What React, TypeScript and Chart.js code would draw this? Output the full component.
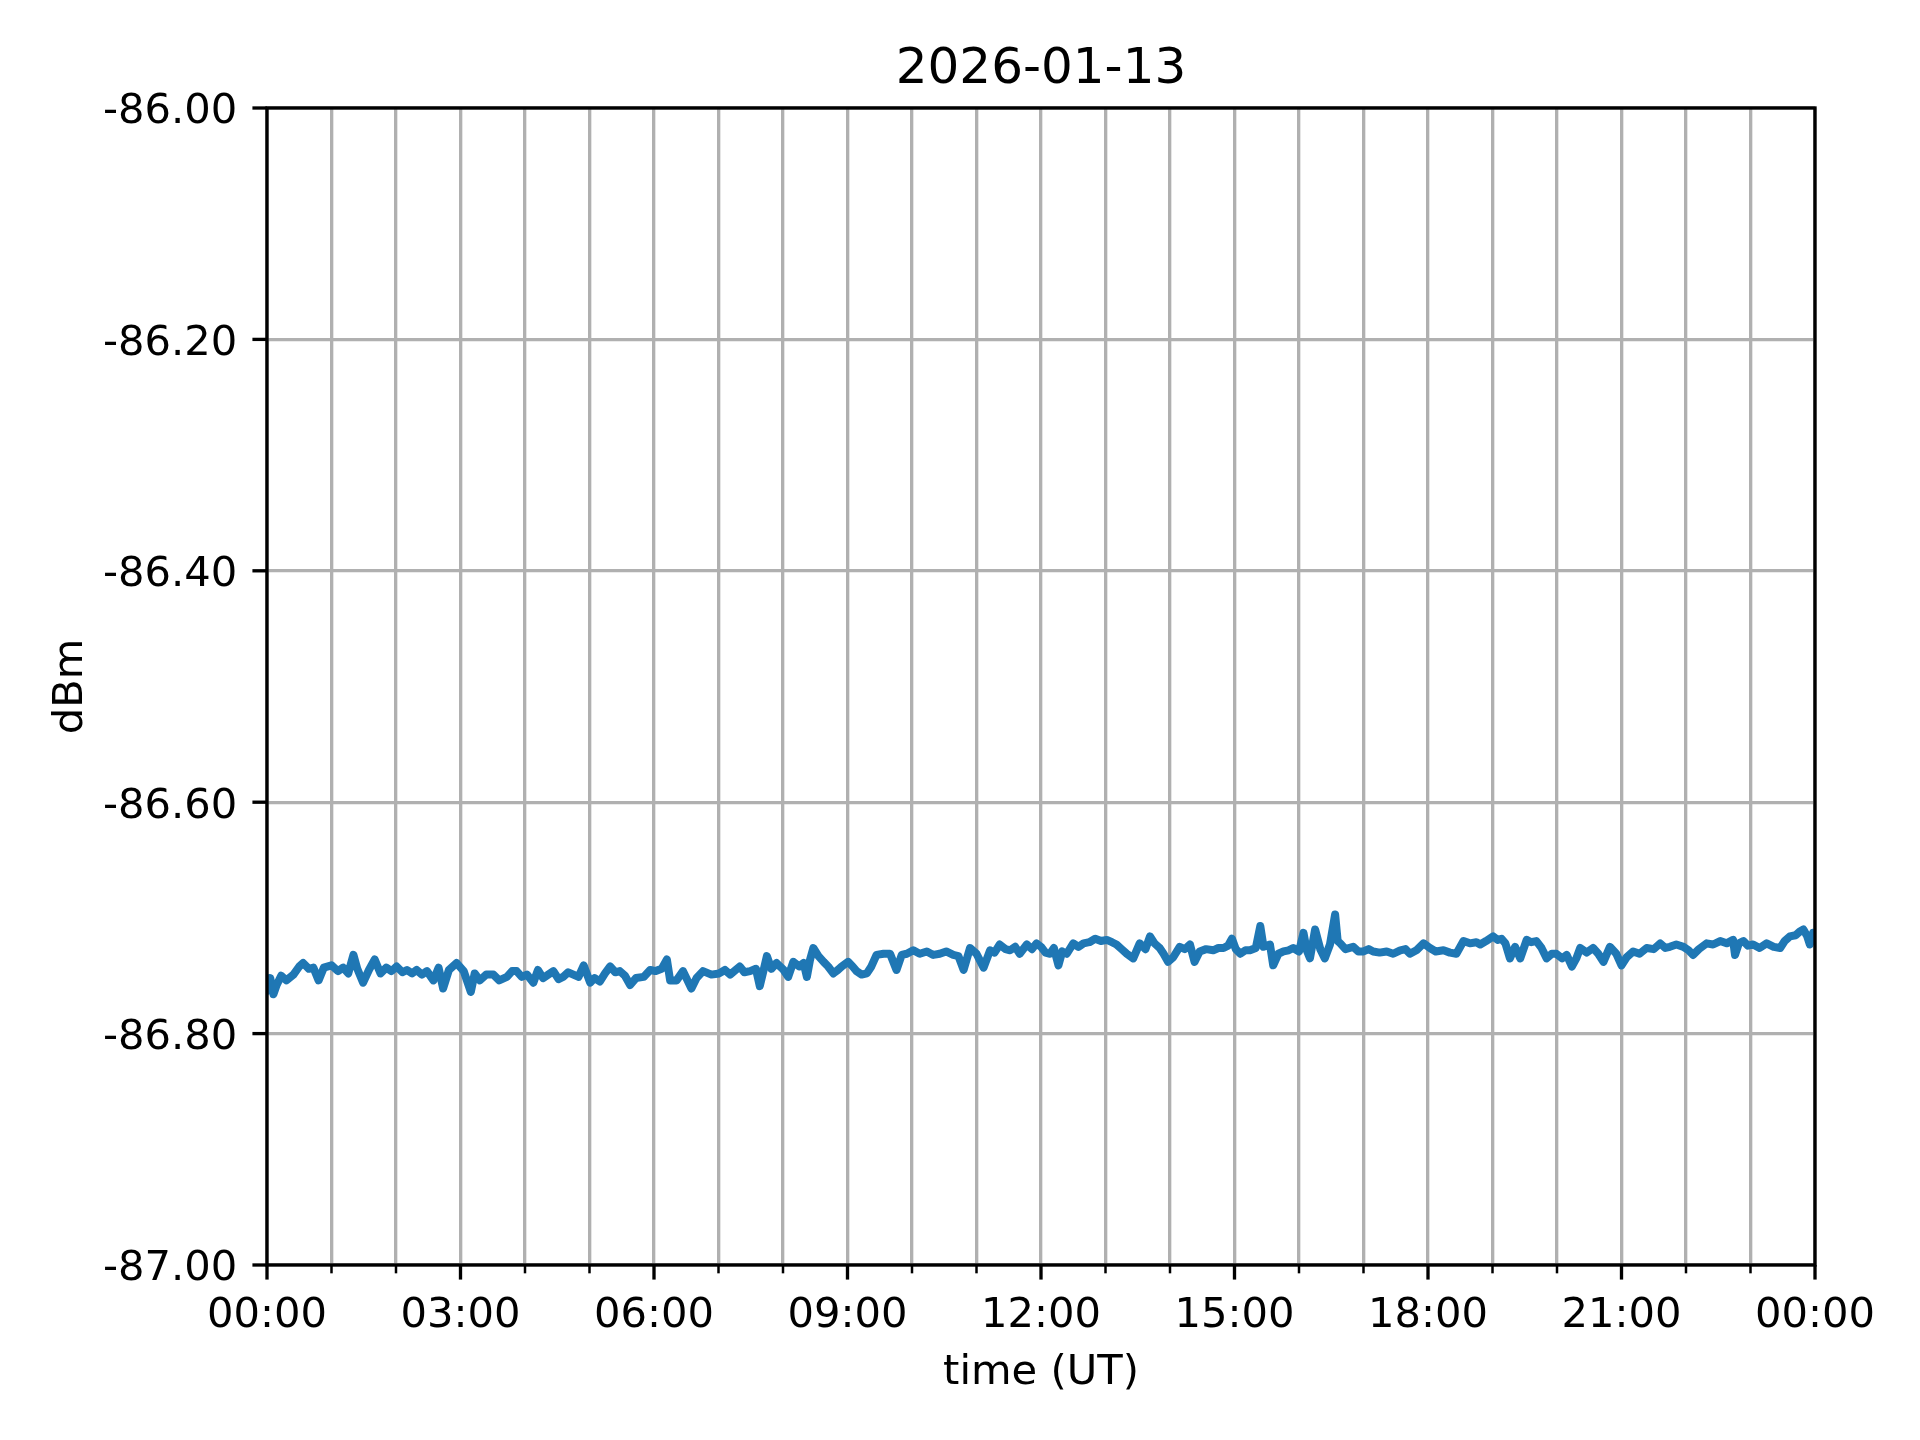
import React, { useEffect, useRef } from "react";
import { Chart, registerables } from "chart.js";

Chart.register(...registerables);

const TITLE = "2026-01-13";
const X_LABEL = "time (UT)";
const Y_LABEL = "dBm";

const hoursUT: number[] = [
  0.0, 0.05, 0.1, 0.15, 0.22, 0.3, 0.41, 0.5, 0.56, 0.65, 0.72, 0.8, 0.88,
  1.0, 1.1, 1.18, 1.26, 1.34, 1.4, 1.49, 1.58, 1.67, 1.76, 1.85, 1.93,
  2.01, 2.1, 2.17, 2.25, 2.32, 2.4, 2.48, 2.58, 2.66, 2.73, 2.82, 2.94,
  3.05, 3.16, 3.22, 3.3, 3.4, 3.51, 3.6, 3.72, 3.8, 3.87, 3.95,
  4.03, 4.13, 4.2, 4.28, 4.36, 4.44, 4.52, 4.59, 4.67, 4.75, 4.83, 4.91,
  5.01, 5.08, 5.16, 5.24, 5.32, 5.4, 5.47, 5.55, 5.63, 5.72, 5.84, 5.94,
  6.02, 6.12, 6.2, 6.25, 6.35, 6.45, 6.58, 6.66, 6.76, 6.89,
  7.01, 7.1, 7.18, 7.33, 7.4, 7.49, 7.58, 7.64, 7.7, 7.75, 7.82, 7.9,
  8.01, 8.08, 8.16, 8.25, 8.32, 8.37, 8.42, 8.47, 8.55, 8.63, 8.7, 8.78, 8.85, 8.91,
  9.01, 9.08, 9.14, 9.22, 9.3, 9.37, 9.45, 9.56, 9.66, 9.76, 9.84, 9.92,
  10.02, 10.12, 10.23, 10.33, 10.43, 10.53, 10.64, 10.72, 10.8, 10.9,
  11.0, 11.11, 11.21, 11.28, 11.36, 11.45, 11.52, 11.6, 11.67, 11.78, 11.86, 11.93,
  12.0, 12.07, 12.14, 12.2, 12.27, 12.33, 12.4, 12.5, 12.58, 12.66, 12.75, 12.84, 12.93,
  13.02, 13.1, 13.17, 13.25, 13.33, 13.43, 13.53, 13.62, 13.69, 13.76, 13.84, 13.9, 13.97,
  14.05, 14.15, 14.23, 14.31, 14.38, 14.46, 14.56, 14.67, 14.75, 14.83, 14.9, 14.96,
  15.02, 15.09, 15.17, 15.24, 15.33, 15.4, 15.45, 15.55, 15.6, 15.68, 15.76, 15.84, 15.91,
  16.0, 16.07, 16.12, 16.17, 16.25, 16.33, 16.4, 16.48, 16.56, 16.6, 16.64, 16.72, 16.84, 16.92,
  17.0, 17.08, 17.15, 17.25, 17.36, 17.46, 17.57, 17.65, 17.72, 17.82, 17.93,
  18.03, 18.12, 18.24, 18.34, 18.44, 18.55, 18.65, 18.75, 18.81, 18.9,
  19.01, 19.08, 19.14, 19.2, 19.27, 19.35, 19.43, 19.53, 19.6, 19.68, 19.76, 19.84, 19.92, 19.99,
  20.08, 20.15, 20.23, 20.3, 20.36, 20.46, 20.56, 20.64, 20.72, 20.82, 20.92,
  21.0, 21.08, 21.18, 21.28, 21.39, 21.5, 21.6, 21.68, 21.75, 21.85, 21.96,
  22.04, 22.11, 22.2, 22.32, 22.42, 22.53, 22.63, 22.73, 22.76, 22.82, 22.89, 22.96,
  23.04, 23.14, 23.25, 23.36, 23.46, 23.53, 23.61, 23.7, 23.76, 23.82, 23.88, 23.92, 23.97, 24.0,
];

const powerDbm: number[] = [
  -86.763, -86.752, -86.766, -86.758, -86.75, -86.754, -86.749, -86.742, -86.739, -86.744, -86.743, -86.754, -86.743,
  -86.741, -86.746, -86.743, -86.748, -86.732, -86.744, -86.756, -86.745, -86.736, -86.748, -86.743, -86.746,
  -86.742, -86.747, -86.745, -86.748, -86.745, -86.749, -86.746, -86.754, -86.743, -86.761, -86.745, -86.739,
  -86.746, -86.764, -86.748, -86.754, -86.749, -86.749, -86.754, -86.751, -86.746, -86.746, -86.751,
  -86.749, -86.756, -86.745, -86.752, -86.749, -86.746, -86.753, -86.751, -86.747, -86.749, -86.751, -86.741,
  -86.756, -86.752, -86.755, -86.748, -86.742, -86.747, -86.746, -86.75, -86.758, -86.752, -86.751, -86.745,
  -86.746, -86.744, -86.736, -86.754, -86.754, -86.746, -86.761, -86.752, -86.746, -86.749,
  -86.748, -86.745, -86.749, -86.742, -86.747, -86.746, -86.744, -86.759, -86.745, -86.733, -86.744, -86.739,
  -86.745, -86.751, -86.738, -86.742, -86.739, -86.751, -86.736, -86.726, -86.733, -86.738, -86.742, -86.748, -86.745, -86.742,
  -86.738, -86.742, -86.746, -86.749, -86.748, -86.742, -86.732, -86.731, -86.731, -86.745, -86.732, -86.731,
  -86.728, -86.731, -86.729, -86.732, -86.731, -86.729, -86.732, -86.733, -86.745, -86.726,
  -86.731, -86.743, -86.728, -86.73, -86.723, -86.727, -86.728, -86.725, -86.731, -86.723, -86.727, -86.722,
  -86.725, -86.73, -86.731, -86.726, -86.741, -86.729, -86.731, -86.722, -86.725, -86.722, -86.721, -86.718, -86.72,
  -86.719, -86.721, -86.723, -86.727, -86.731, -86.735, -86.722, -86.727, -86.716, -86.722, -86.726, -86.731, -86.738,
  -86.734, -86.725, -86.727, -86.723, -86.738, -86.729, -86.727, -86.728, -86.726, -86.726, -86.724, -86.718,
  -86.727, -86.731, -86.728, -86.728, -86.726, -86.707, -86.725, -86.723, -86.741, -86.731, -86.729, -86.728, -86.726,
  -86.729, -86.713, -86.728, -86.735, -86.71, -86.727, -86.735, -86.723, -86.697, -86.72, -86.722, -86.727, -86.725, -86.729,
  -86.729, -86.727, -86.729, -86.73, -86.729, -86.731, -86.728, -86.727, -86.731, -86.728, -86.722,
  -86.726, -86.729, -86.728, -86.73, -86.731, -86.72, -86.722, -86.721, -86.723, -86.72,
  -86.716, -86.719, -86.718, -86.722, -86.735, -86.725, -86.735, -86.719, -86.721, -86.72, -86.726, -86.735, -86.731, -86.731,
  -86.735, -86.732, -86.742, -86.735, -86.726, -86.73, -86.726, -86.731, -86.738, -86.725, -86.731,
  -86.741, -86.734, -86.729, -86.731, -86.726, -86.727, -86.722, -86.726, -86.725, -86.723, -86.725,
  -86.728, -86.732, -86.727, -86.722, -86.723, -86.72, -86.722, -86.719, -86.732, -86.722, -86.72, -86.724,
  -86.723, -86.726, -86.722, -86.725, -86.726, -86.72, -86.716, -86.715, -86.712, -86.71, -86.716, -86.723, -86.713, -86.72,
];

const X_MIN = 0;
const X_MAX = 24;
const Y_MIN = -87;
const Y_MAX = -86;
const Y_STEP = 0.2;
const X_MAJOR_EVERY = 3;

const FONT = "'DejaVu Sans', 'Liberation Sans', sans-serif";
const PT = 300 / 72;

const decorPlugin = {
  id: "mplDecor",
  afterDraw(chart: any) {
    const ctx = chart.ctx as CanvasRenderingContext2D;
    const area = chart.chartArea;
    const xs = chart.scales.x;
    const ys = chart.scales.y;
    ctx.save();
    // spines
    ctx.strokeStyle = "#000";
    ctx.lineWidth = 0.8 * PT;
    ctx.strokeRect(area.left, area.top, area.right - area.left, area.bottom - area.top);

    // x ticks & labels
    ctx.fillStyle = "#000";
    ctx.font = `${10 * PT}px ${FONT}`;
    ctx.textAlign = "center";
    ctx.textBaseline = "alphabetic";
    for (let h = X_MIN; h <= X_MAX; h++) {
      const px = xs.getPixelForValue(h);
      const major = h % X_MAJOR_EVERY === 0;
      ctx.lineWidth = major ? 0.8 * PT : 0.6 * PT;
      ctx.beginPath();
      ctx.moveTo(px, area.bottom);
      ctx.lineTo(px, area.bottom + (major ? 3.5 * PT : 2 * PT));
      ctx.stroke();
      if (major) {
        const hh = String(h % 24).padStart(2, "0");
        ctx.fillText(`${hh}:00`, px, area.bottom + 62);
      }
    }

    // y ticks & labels
    ctx.textAlign = "right";
    ctx.lineWidth = 0.8 * PT;
    const nY = Math.round((Y_MAX - Y_MIN) / Y_STEP);
    for (let i = 0; i <= nY; i++) {
      const v = Y_MIN + i * Y_STEP;
      const py = ys.getPixelForValue(v);
      ctx.beginPath();
      ctx.moveTo(area.left - 3.5 * PT, py);
      ctx.lineTo(area.left, py);
      ctx.stroke();
      ctx.fillText(v.toFixed(2), area.left - 7 * PT - 0.5, py + 15.4);
    }

    // title
    const cx = (area.left + area.right) / 2;
    ctx.textAlign = "center";
    ctx.font = `${12 * PT}px ${FONT}`;
    ctx.fillText(TITLE, cx, area.top - 25);

    // x label
    ctx.font = `${10 * PT}px ${FONT}`;
    ctx.fillText(X_LABEL, cx, 1384);

    // y label
    ctx.save();
    ctx.translate(82, (area.top + area.bottom) / 2);
    ctx.rotate(-Math.PI / 2);
    ctx.fillText(Y_LABEL, 0, 0);
    ctx.restore();

    ctx.restore();
  },
};

export default function App() {
  const canvasRef = useRef<HTMLCanvasElement | null>(null);

  useEffect(() => {
    document.body.style.margin = "0";
    const canvas = canvasRef.current;
    if (!canvas) return;
    const points = hoursUT.map((h, i) => ({ x: h, y: powerDbm[i] }));
    const chart = new Chart(canvas, {
      type: "line",
      data: {
        datasets: [
          {
            data: points,
            borderColor: "#1f77b4",
            borderWidth: 8,
            pointRadius: 0,
            tension: 0,
            fill: false,
            borderJoinStyle: "round",
            borderCapStyle: "round",
          },
        ],
      },
      options: {
        responsive: false,
        animation: false,
        devicePixelRatio: 1,
        events: [],
        layout: { padding: { top: 108, right: 105, bottom: 0, left: 0 } },
        plugins: {
          legend: { display: false },
          title: { display: false },
          tooltip: { enabled: false },
        },
        scales: {
          x: {
            type: "linear",
            min: X_MIN,
            max: X_MAX,
            ticks: { display: false, stepSize: 1 },
            grid: { color: "#b0b0b0", lineWidth: 0.8 * PT, drawTicks: false },
            border: { display: false },
            afterFit: (s: any) => {
              s.height = 175;
            },
          },
          y: {
            type: "linear",
            min: Y_MIN,
            max: Y_MAX,
            ticks: { display: false, stepSize: Y_STEP },
            grid: { color: "#b0b0b0", lineWidth: 0.8 * PT, drawTicks: false },
            border: { display: false },
            afterFit: (s: any) => {
              s.width = 267;
            },
          },
        },
      },
      plugins: [decorPlugin],
    });
    return () => chart.destroy();
  }, []);

  return (
    <div style={{ width: 1920, height: 1440, background: "#fff" }}>
      <canvas ref={canvasRef} width={1920} height={1440} style={{ display: "block" }} />
    </div>
  );
}
